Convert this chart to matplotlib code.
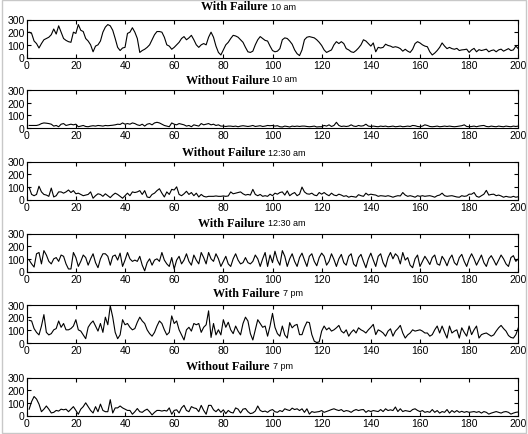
import numpy as np
import matplotlib.pyplot as plt
from matplotlib.patches import Rectangle

# readings (one value per sample, samples 1..200) taken off the six traces
with_fail_10am = [
    200, 190, 130, 110, 75, 110, 140, 150, 160, 180,
    225, 185, 250, 200, 150, 135, 125, 120, 200, 190,
    260, 215, 205, 150, 130, 100, 45, 90, 100, 130,
    200, 240, 260, 250, 215, 150, 80, 55, 75, 80,
    190, 200, 235, 200, 150, 40, 55, 65, 80, 100,
    140, 180, 205, 205, 200, 160, 100, 90, 65, 80,
    100, 120, 150, 165, 140, 155, 175, 140, 100, 80,
    100, 110, 100, 160, 200, 160, 90, 40, 20, 60,
    100, 120, 150, 175, 170, 160, 140, 120, 80, 45,
    40, 50, 100, 140, 165, 150, 135, 130, 90, 55,
    45, 50, 70, 140, 155, 150, 130, 105, 60, 30,
    15, 60, 140, 160, 165, 160, 155, 140, 120, 95,
    60, 40, 50, 60, 100, 125, 110, 125, 110, 70,
    60, 45, 40, 55, 75, 100, 140, 130, 110, 90,
    115, 45, 80, 75, 80, 105, 95, 90, 80, 85,
    80, 70, 50, 65, 50, 40, 65, 110, 125, 115,
    100, 90, 85, 45, 20, 35, 55, 80, 115, 90,
    70, 80, 70, 65, 72, 55, 60, 62, 66, 40,
    60, 72, 45, 62, 55, 60, 66, 45, 55, 60,
    45, 60, 66, 50, 60, 70, 55, 60, 90, 70,
]

without_fail_10am = [
    20, 20, 20, 20, 25, 35, 40, 38, 35, 30,
    15, 20, 10, 30, 35, 20, 25, 30, 25, 30,
    10, 15, 20, 12, 10, 15, 18, 15, 20, 18,
    15, 20, 18, 20, 22, 25, 30, 28, 40, 30,
    35, 30, 40, 35, 25, 20, 30, 15, 30, 35,
    25, 40, 45, 40, 30, 20, 15, 10, 40, 30,
    25, 35, 30, 25, 15, 20, 10, 25, 20, 15,
    35, 25, 30, 35, 25, 30, 20, 25, 15, 15,
    12, 15, 15, 12, 15, 10, 15, 18, 15, 12,
    15, 20, 12, 15, 18, 12, 15, 20, 18, 20,
    15, 18, 10, 8, 15, 12, 8, 15, 12, 15,
    12, 15, 15, 12, 10, 12, 15, 8, 10, 10,
    20, 15, 25, 12, 20, 45, 20, 12, 15, 12,
    15, 25, 15, 12, 20, 15, 18, 30, 15, 12,
    15, 12, 10, 15, 12, 15, 10, 12, 15, 10,
    12, 15, 10, 12, 15, 12, 20, 18, 12, 10,
    15, 25, 20, 12, 10, 12, 15, 10, 12, 15,
    12, 15, 12, 10, 12, 15, 18, 25, 12, 10,
    12, 15, 10, 15, 18, 20, 12, 10, 15, 12,
    10, 15, 12, 10, 15, 12, 10, 15, 12, 15,
]

without_fail_1230am = [
    95, 40, 30, 40, 105, 60, 40, 35, 25, 90,
    20, 30, 60, 60, 50, 60, 75, 55, 70, 45,
    50, 40, 30, 35, 40, 60, 10, 30, 45, 40,
    25, 45, 30, 15, 35, 50, 40, 25, 10, 30,
    50, 30, 60, 55, 60, 70, 40, 70, 20, 15,
    40, 50, 70, 85, 50, 20, 60, 40, 80, 75,
    100, 40, 30, 45, 65, 40, 55, 30, 50, 20,
    40, 25, 20, 25, 25, 25, 28, 25, 25, 28,
    25, 28, 60, 45, 50, 55, 60, 45, 35, 40,
    35, 80, 40, 30, 40, 25, 30, 25, 42, 30,
    50, 42, 55, 60, 35, 68, 30, 45, 55, 30,
    42, 98, 60, 45, 42, 50, 35, 30, 55, 42,
    55, 40, 30, 50, 35, 30, 42, 35, 25, 30,
    18, 25, 22, 18, 38, 30, 25, 50, 35, 42,
    38, 35, 25, 30, 28, 25, 30, 25, 18, 25,
    30, 28, 55, 35, 25, 30, 25, 18, 30, 25,
    30, 25, 28, 30, 25, 18, 30, 35, 50, 30,
    25, 28, 30, 25, 20, 18, 30, 25, 28, 42,
    42, 55, 25, 18, 30, 42, 72, 35, 40, 42,
    30, 35, 28, 18, 25, 20, 18, 25, 18, 22,
]

with_fail_1230am = [
    90, 60, 35, 140, 150, 60, 165, 130, 80, 60,
    100, 110, 80, 130, 120, 60, 20, 20, 150, 110,
    40, 80, 130, 110, 50, 100, 140, 70, 30, 100,
    140, 140, 120, 50, 120, 130, 90, 145, 40, 90,
    150, 100, 80, 90, 80, 120, 50, 5, 70, 100,
    50, 90, 100, 80, 150, 90, 60, 40, 110, 20,
    90, 120, 60, 90, 140, 80, 50, 130, 90, 60,
    150, 110, 60, 150, 100, 80, 140, 100, 40, 80,
    120, 60, 40, 100, 140, 90, 60, 70, 110, 70,
    60, 80, 130, 100, 40, 100, 150, 40, 130, 70,
    160, 90, 50, 165, 120, 40, 100, 140, 80, 40,
    110, 145, 90, 40, 120, 140, 80, 45, 110, 145,
    120, 50, 80, 140, 95, 40, 100, 135, 70, 50,
    120, 140, 60, 40, 110, 135, 80, 30, 100, 145,
    90, 40, 120, 140, 70, 35, 110, 150, 100, 140,
    120, 60, 150, 90, 110, 50, 30, 100, 130, 40,
    80, 120, 90, 55, 110, 130, 60, 50, 120, 90,
    45, 100, 130, 70, 50, 110, 135, 80, 40, 100,
    140, 100, 50, 90, 130, 70, 40, 100, 125, 90,
    50, 90, 130, 100, 60, 40, 110, 125, 80, 100,
]

with_fail_7pm = [
    175, 170, 110, 80, 60, 130, 220, 80, 60, 70,
    100, 110, 170, 120, 150, 100, 100, 110, 130, 180,
    100, 90, 60, 30, 120, 150, 170, 130, 90, 150,
    80, 200, 140, 290, 200, 80, 30, 60, 180, 140,
    150, 120, 100, 110, 160, 200, 170, 150, 100, 70,
    50, 80, 130, 170, 150, 100, 60, 80, 210, 150,
    170, 100, 60, 20, 100, 120, 90, 150, 140, 150,
    80, 120, 140, 250, 40, 150, 60, 100, 60, 180,
    120, 160, 100, 70, 130, 90, 60, 150, 200, 170,
    70, 20, 100, 180, 150, 120, 130, 50, 130, 230,
    120, 70, 50, 130, 60, 35, 157, 116, 135, 143,
    62, 62, 120, 162, 157, 62, 10, 0, 5, 90,
    130, 100, 116, 90, 100, 116, 135, 90, 75, 100,
    50, 80, 100, 75, 116, 100, 90, 75, 100, 120,
    143, 62, 100, 90, 75, 50, 90, 108, 50, 90,
    110, 135, 75, 35, 60, 75, 100, 90, 95, 100,
    90, 75, 75, 50, 62, 100, 130, 75, 130, 80,
    35, 130, 75, 90, 100, 35, 116, 80, 50, 130,
    62, 100, 130, 35, 62, 70, 75, 62, 50, 60,
    90, 116, 135, 110, 90, 55, 40, 35, 62, 116,
]

without_fail_7pm = [
    50, 110, 150, 130, 90, 30, 50, 75, 50, 20,
    25, 40, 35, 50, 45, 50, 30, 50, 70, 40,
    10, 50, 70, 100, 70, 40, 20, 70, 30, 90,
    40, 30, 30, 125, 20, 60, 60, 75, 60, 50,
    40, 40, 10, 30, 55, 30, 25, 40, 50, 30,
    5, 25, 40, 40, 35, 40, 35, 60, 10, 40,
    45, 20, 60, 80, 40, 30, 70, 60, 55, 30,
    80, 40, 10, 80, 80, 45, 30, 50, 25, 45,
    15, 40, 25, 20, 60, 50, 20, 50, 55, 30,
    15, 20, 35, 75, 40, 30, 35, 25, 40, 47,
    30, 25, 39, 31, 53, 45, 39, 58, 47, 53,
    39, 53, 25, 53, 11, 31, 25, 28, 31, 39,
    25, 32, 39, 47, 53, 45, 39, 47, 31, 39,
    35, 25, 39, 47, 39, 45, 47, 25, 39, 31,
    39, 35, 31, 47, 31, 53, 39, 45, 39, 67,
    31, 53, 31, 39, 35, 31, 47, 53, 40, 31,
    39, 25, 31, 25, 47, 25, 39, 19, 31, 25,
    47, 19, 39, 25, 39, 25, 33, 25, 31, 25,
    28, 31, 25, 31, 19, 31, 25, 11, 19, 25,
    31, 25, 19, 28, 31, 25, 11, 19, 25, 28,
]

series = [with_fail_10am, without_fail_10am, without_fail_1230am,
          with_fail_1230am, with_fail_7pm, without_fail_7pm]
titles = ['With Failure', 'Without Failure', 'Without Failure',
          'With Failure', 'With Failure', 'Without Failure']
times = ['10 am', '10 am', '12:30 am', '12:30 am', '7 pm', '7 pm']
x_ticks = list(range(0, 201, 20))
y_ticks = [0, 100, 200, 300]

W, H = 528, 435
fig = plt.figure(figsize=(W / 100, H / 100), dpi=100)

ax_left, ax_right = 26.7, 518.3
ax_tops = [20.5, 91.0, 162.5, 234.5, 305.5, 378.5]
ax_h = 38
title_end = [268, 269, 265, 265, 280, 270]
title_y = [7.5, 80.5, 153.5, 224, 294, 367]

for i, y in enumerate(series):
    top = ax_tops[i]
    ax = fig.add_axes([ax_left / W, 1 - (top + ax_h) / H,
                       (ax_right - ax_left) / W, ax_h / H])
    ax.plot(np.arange(1, len(y) + 1), y, color='black', lw=0.8)
    ax.set_xlim(0, 200)
    ax.set_ylim(0, 300)
    ax.set_xticks(x_ticks)
    ax.set_yticks(y_ticks)
    ax.tick_params(direction='in', top=True, right=True, length=3,
                   width=0.8, labelsize=7.5, pad=1.5)
    for lab in ax.get_xticklabels() + ax.get_yticklabels():
        lab.set_fontfamily('Liberation Sans')
    for s in ax.spines.values():
        s.set_linewidth(0.8)

    fig.text(title_end[i] / W, 1 - title_y[i] / H, titles[i], ha='right',
             va='center', fontfamily='Liberation Serif', fontweight='bold',
             fontsize=8.7)
    fig.text((title_end[i] + 3) / W, 1 - (title_y[i] - 0.5) / H, times[i],
             ha='left', va='center', fontfamily='Liberation Sans', fontsize=6.5)

# thin grey frame round the picture
fig.patches.append(Rectangle((0.003, 0.003), 0.994, 0.994, transform=fig.transFigure,
                             fill=False, ec='#c8c8c8', lw=1))

fig.savefig('out.png', dpi=100)
